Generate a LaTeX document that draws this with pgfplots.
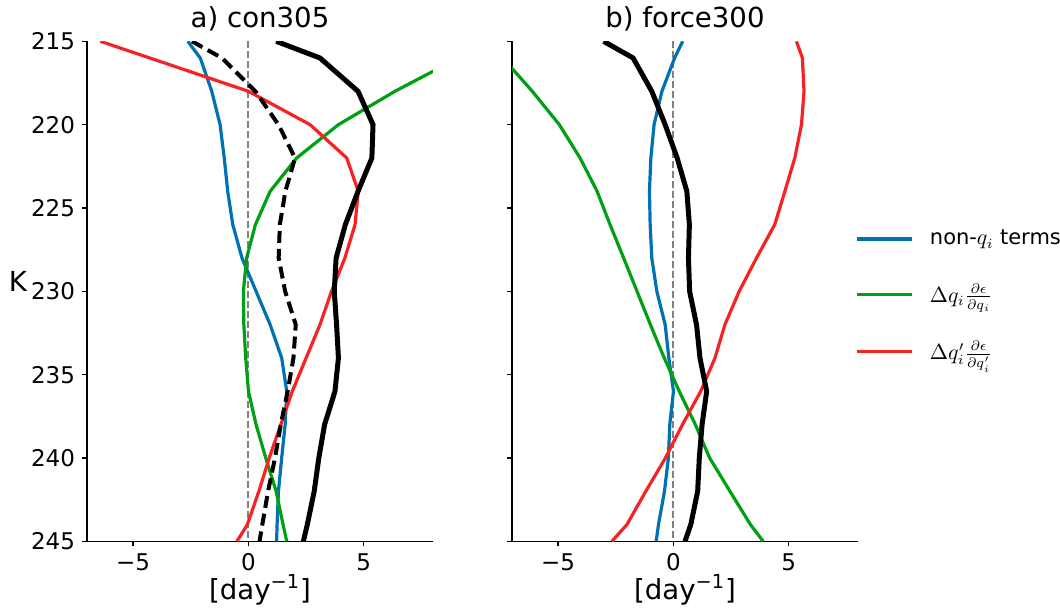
\documentclass[border=0pt]{standalone}
\usepackage{fontspec}
\setmainfont{DejaVu Sans}
\usepackage{pgfplots}
\usepackage{pgfplotstable}
\pgfplotsset{compat=1.18}

\definecolor{cblue}{RGB}{0,114,178}
\definecolor{cgreen}{RGB}{0,160,20}
\definecolor{cred}{RGB}{245,35,35}

% panel a: con305
\pgfplotstableread{
y    blue   green  red    tot   dash
215  -2.63  10.3   -6.42  1.20  -2.45
216  -2.09  9.10   -4.28  3.10  -1.15
218  -1.59  6.35   0.00   4.75  0.30
220  -1.23  3.90   2.67   5.40  1.30
222  -1.05  2.09   4.26   5.35  2.02
224  -0.90  0.94   4.76   4.75  1.60
226  -0.68  0.30   4.62   4.20  1.36
228  -0.28  -0.08  4.18   3.80  1.31
230  0.33   -0.22  3.60   3.72  1.59
232  0.94   -0.20  3.10   3.82  2.05
234  1.44   -0.12  2.50   3.90  1.95
236  1.66   0.00   1.90   3.75  1.70
238  1.59   0.33   1.40   3.30  1.40
240  1.44   0.75   0.90   3.05  1.15
242  1.30   1.20   0.45   2.85  0.85
244  1.24   1.50   -0.05  2.55  0.60
245  1.22   1.66   -0.50  2.38  0.48
}\tabA

% panel b: force300
\pgfplotstableread{
y    blue   green  red    tot
215  0.40   -8.80  5.33   -3.03
216  0.05   -7.40  5.59   -1.75
218  -0.50  -6.12  5.66   -0.94
220  -0.84  -4.95  5.55   -0.36
222  -0.98  -4.05  5.26   0.16
224  -1.04  -3.31  4.83   0.58
226  -1.01  -2.75  4.39   0.69
228  -0.94  -2.16  3.60   0.65
230  -0.72  -1.58  2.85   0.70
232  -0.36  -1.00  2.23   1.00
234  -0.20  -0.40  1.80   1.15
236  0.00   0.25   1.18   1.44
238  -0.16  0.95   0.39   1.24
240  -0.22  1.57   -0.35  1.12
242  -0.39  2.45   -1.20  1.05
244  -0.65  3.34   -2.02  0.75
245  -0.75  3.89   -2.67  0.50
}\tabB

\pgfplotsset{
  panel/.style={
    width=173pt, height=250pt, scale only axis,
    xmin=-7, xmax=8, ymin=215, ymax=245, y dir=reverse,
    axis x line*=bottom, axis y line*=left,
    axis line style={line width=0.65pt},
    tick align=outside, major tick length=2.5pt,
    every tick/.style={black, line width=0.65pt},
    xtick={-5,0,5}, xticklabels={−5,0,5},
    ytick={215,220,...,245},
    tick label style={font=\fontsize{11.5}{13}\selectfont},
    /pgf/number format/assume math mode=true,
    title style={font=\fontsize{13.8}{16}\selectfont, yshift=-4.5pt},
    label style={font=\fontsize{13.8}{16}\selectfont},
    xlabel={[day\textsuperscript{−1}]},
    xlabel style={yshift=5pt},
  },
  zero/.style={color={rgb,255:red,128;green,128;blue,128}, line width=1pt, dash pattern=on 3.5pt off 1.5pt, forget plot},
  thin line/.style={line width=1.6pt},
}

\begin{document}
\begin{tikzpicture}
\useasboundingbox (-43.5pt,-32.85pt) rectangle (486.5pt,270.65pt);

\begin{axis}[panel, title={a) con305},
  ylabel={K},
  ylabel style={at={(axis description cs:-0.2,0.52)}, rotate=-90, anchor=center},
  ]
  \addplot[zero] coordinates {(0,215) (0,245)};
  \addplot[cblue, thin line] table[x=blue, y=y] {\tabA};
  \addplot[cgreen, thin line] table[x=green, y=y] {\tabA};
  \addplot[cred, thin line] table[x=red, y=y] {\tabA};
  \addplot[black, line width=2pt, dash pattern=on 6pt off 3pt] table[x=dash, y=y] {\tabA};
  \addplot[black, line width=2.5pt] table[x=tot, y=y] {\tabA};
\end{axis}

\begin{axis}[panel, at={(212.5pt,0)}, title={b) force300},
  yticklabels={},
  legend style={draw=none, fill=none, at={(axis description cs:0.975,0.49)}, anchor=west,
    font=\fontsize{10.5}{13}\selectfont, row sep=14pt,
    /tikz/every odd column/.append style={column sep=6pt}},
  legend cell align=left,
  legend image code/.code={\draw[#1] (0pt,0pt) -- (27.5pt,0pt);},
  ]
  \addplot[zero] coordinates {(0,215) (0,245)};
  \addplot[cblue, thin line] table[x=blue, y=y] {\tabB};
  \addlegendentry{non-$q_i$ terms}
  \addplot[cgreen, thin line] table[x=green, y=y] {\tabB};
  \addlegendentry{$\Delta q_i\frac{\partial\epsilon}{\partial q_i}$}
  \addplot[cred, thin line] table[x=red, y=y] {\tabB};
  \addlegendentry{$\Delta q'_i\frac{\partial\epsilon}{\partial q'_i}$}
  \addplot[black, line width=2.5pt, forget plot] table[x=tot, y=y] {\tabB};
\end{axis}
\end{tikzpicture}
\end{document}
